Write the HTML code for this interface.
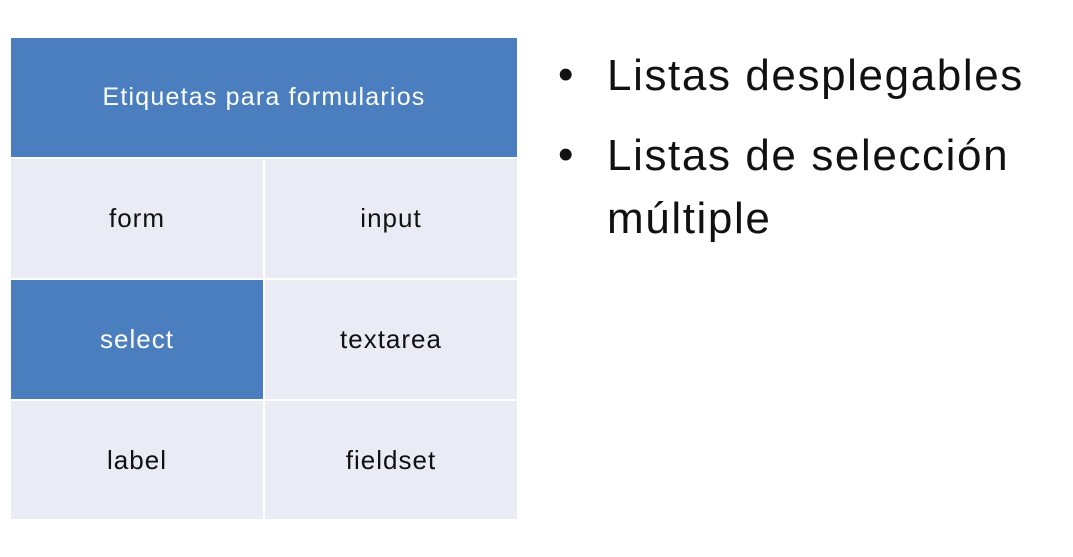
<!DOCTYPE html>
<html><head><meta charset="utf-8"><style>
body{margin:0;width:1073px;height:557px;background:#fff;position:relative;overflow:hidden;font-family:"Liberation Sans",sans-serif}
.c{position:absolute;display:flex;align-items:center;justify-content:center;font-size:26px;letter-spacing:1px;color:#111;background:#e9ebf5}
.b{background:#4a7ebf;color:#fff}
.t{position:absolute;font-size:44px;letter-spacing:1.6px;color:#111;white-space:nowrap}
.d{position:absolute;font-size:44px;color:#111}
</style></head><body>
<div class="c b" style="left:11px;top:38px;width:506px;height:119px;font-size:25px;letter-spacing:1.2px">Etiquetas para formularios</div>
<div class="c" style="left:11px;top:159px;width:252px;height:119px">form</div>
<div class="c" style="left:265px;top:159px;width:252px;height:119px">input</div>
<div class="c b" style="left:11px;top:280px;width:252px;height:119px">select</div>
<div class="c" style="left:265px;top:280px;width:252px;height:119px">textarea</div>
<div class="c" style="left:11px;top:401px;width:252px;height:118px">label</div>
<div class="c" style="left:265px;top:401px;width:252px;height:118px">fieldset</div>
<div class="d" style="left:558px;top:50px">•</div>
<div class="t" style="left:607px;top:51px">Listas desplegables</div>
<div class="d" style="left:558px;top:130px">•</div>
<div class="t" style="left:607px;top:131px">Listas de selección</div>
<div class="t" style="left:607px;top:194px">múltiple</div>
</body></html>
